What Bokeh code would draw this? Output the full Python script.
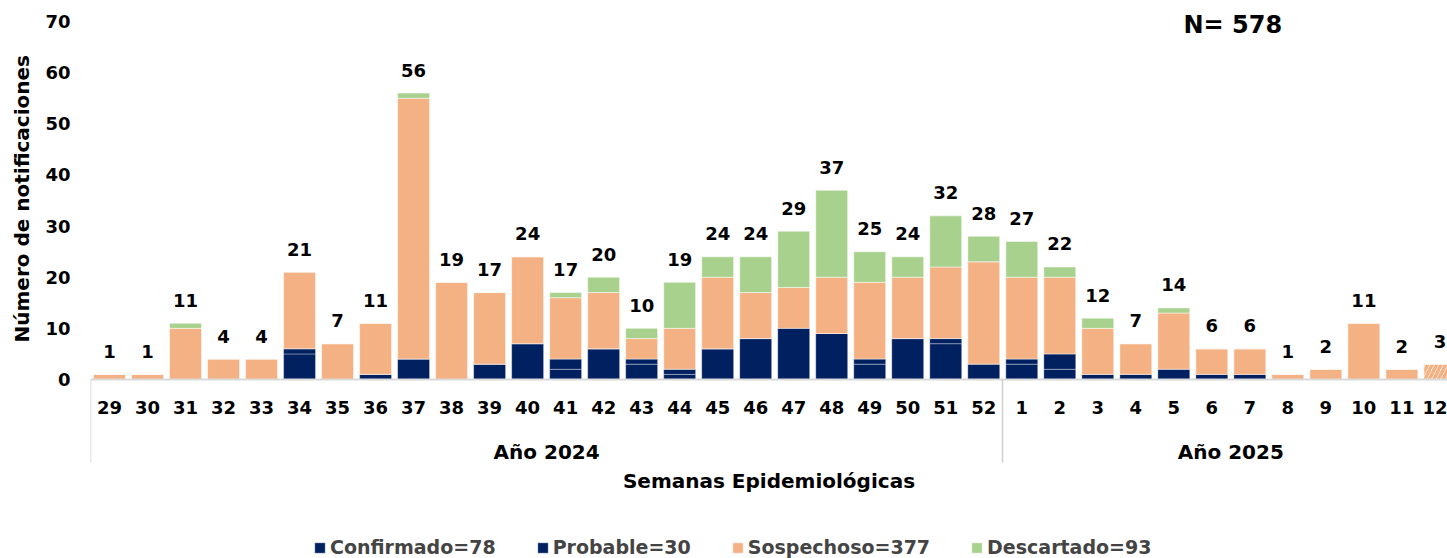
from bokeh.plotting import figure
from bokeh.models import (ColumnDataSource, Range1d, FixedTicker, LinearAxis,
                          Label, Legend, LegendItem, Title)
from bokeh.transform import stack
from bokeh.core.properties import value
from bokeh.embed import file_html
from bokeh.resources import INLINE

# ---------------- data ----------------
weeks = [str(w) for w in range(29, 53)] + [str(w) for w in range(1, 13)]
years = ["Año 2024", "Año 2025"]
year_sizes = [24, 12]

confirmado = [0, 0, 0, 0, 0, 5, 0, 1, 4, 0, 3, 7, 2, 6, 3, 1, 6, 8, 0, 9, 3, 8, 7, 0,
              3, 2, 0, 0, 0, 0, 0, 0, 0, 0, 0, 0]
probable = [0, 0, 0, 0, 0, 1, 0, 0, 0, 0, 0, 0, 2, 0, 1, 1, 0, 0, 10, 0, 1, 0, 1, 3,
            1, 3, 1, 1, 2, 1, 1, 0, 0, 0, 0, 0]
sospechoso = [1, 1, 10, 4, 4, 15, 7, 10, 51, 19, 14, 17, 12, 11, 4, 8, 14, 9, 8, 11, 15, 12, 14, 20,
              16, 15, 9, 6, 11, 5, 5, 1, 2, 11, 2, 3]
descartado = [0, 0, 1, 0, 0, 0, 0, 0, 1, 0, 0, 0, 1, 3, 2, 9, 4, 7, 11, 17, 6, 4, 10, 5,
              7, 2, 2, 0, 1, 0, 0, 0, 0, 0, 0, 0]
# last week is still incomplete (drawn hatched)
semana_incompleta = [False] * 35 + [True]

NAVY = "#002060"
ORANGE = "#F4B183"
GREEN = "#A9D18E"
FONT = "DejaVu Sans"
FS = "18px"
FS_T = "20px"

n = len(weeks)
xs = list(range(n))
totals = [c + p + s + d for c, p, s, d in zip(confirmado, probable, sospechoso, descartado)]
N = sum(totals)
Y_MAX = 70

# layout (pixels): the frame covers the canvas right of the y axis;
# y = 0 sits 179 px above the bottom, y = 70 sits 21 px below the top
W_PX, H_PX, LEFT = 1447, 558, 90
TOP_PX, BASE_PX = 21, 379
ppu = (BASE_PX - TOP_PX) / Y_MAX
y_start = -(H_PX - BASE_PX) / ppu
y_end = Y_MAX + TOP_PX / ppu

src = ColumnDataSource(dict(
    x=xs, conf=confirmado, prob=probable, sosp=sospechoso, desc=descartado,
    total=totals, total_str=[str(t) for t in totals],
    sosp_fill=["white" if inc else ORANGE for inc in semana_incompleta],
    sosp_hatch=["/" if inc else " " for inc in semana_incompleta],
))

p = figure(width=W_PX, height=H_PX,
           x_range=Range1d(-0.5, 35.2), y_range=Range1d(y_start, y_end),
           output_backend="svg", toolbar_location=None,
           min_border_left=LEFT, min_border_right=0, min_border_top=0, min_border_bottom=0)
p.outline_line_color = None
p.xgrid.grid_line_color = None
p.ygrid.grid_line_color = None

W = 0.84
r_conf = p.vbar(x="x", bottom=0, top=stack("conf"), width=W, source=src,
                fill_color=NAVY, line_color="white", line_alpha=0.35, line_width=1)
r_prob = p.vbar(x="x", bottom=stack("conf"), top=stack("conf", "prob"), width=W, source=src,
                fill_color=NAVY, line_color="white", line_alpha=0.35, line_width=1)
r_sosp = p.vbar(x="x", bottom=stack("conf", "prob"), top=stack("conf", "prob", "sosp"), width=W,
                source=src, fill_color="sosp_fill", hatch_pattern="sosp_hatch",
                hatch_color=ORANGE, hatch_weight=3.5, hatch_scale=9,
                line_color="white", line_alpha=0.5, line_width=1)
r_desc = p.vbar(x="x", bottom=stack("conf", "prob", "sosp"), top=stack("conf", "prob", "sosp", "desc"),
                width=W, source=src, fill_color=GREEN, line_color="white", line_alpha=0.5, line_width=1)

p.text(x="x", y="total", text="total_str", source=src, text_align="center",
       text_baseline="middle", y_offset=-23, text_font=value(FONT),
       text_font_style="bold", text_font_size=FS, text_color="black")


def style_labels(ax, fs=FS):
    ax.major_label_text_font = FONT
    ax.major_label_text_font_style = "bold"
    ax.major_label_text_font_size = fs
    ax.major_label_text_color = "black"
    ax.axis_label_text_font = FONT
    ax.axis_label_text_font_style = "bold"
    ax.axis_label_text_font_size = FS_T
    ax.axis_label_text_color = "black"
    ax.minor_tick_line_color = None


# y axis
yax = p.yaxis[0]
style_labels(yax)
yax.ticker = FixedTicker(ticks=list(range(0, Y_MAX + 1, 10)))
yax.bounds = (0, Y_MAX)
yax.axis_line_color = None
yax.major_tick_line_color = None
yax.major_tick_out = 0
yax.major_label_standoff = 20

# y axis title, positioned along the 0..70 span (not the whole frame)
p.add_layout(Title(text="Número de notificaciones", align="left", offset=216,
                   vertical_align="middle", standoff=16, text_font=FONT,
                   text_font_style="bold", text_font_size=FS_T, text_color="black"), "left")

# x axis 1: weeks (drawn at y = 0)
xax = p.xaxis[0]
style_labels(xax)
xax.fixed_location = 0
xax.ticker = FixedTicker(ticks=xs, minor_ticks=[])
xax.major_label_overrides = {i: w for i, w in zip(xs, weeks)}
xax.major_tick_line_color = None
xax.major_tick_out = 0
xax.major_tick_in = 0
xax.axis_line_color = "#d9d9d9"
xax.axis_line_width = 2
xax.major_label_standoff = 21

# x axis 2: years
centers, bounds = [], []
acc = 0
for s in year_sizes:
    bounds.append(acc - 0.5)
    centers.append(acc + (s - 1) / 2)
    acc += s
bounds.append(acc - 0.5)

yr_ax = LinearAxis(ticker=FixedTicker(ticks=centers, minor_ticks=[]),
                   major_label_overrides={c: y for c, y in zip(centers, years)},
                   fixed_location=0)
style_labels(yr_ax, FS_T)
yr_ax.axis_line_color = None
yr_ax.major_tick_line_color = None
yr_ax.major_tick_out = 0
yr_ax.major_label_standoff = 60
p.add_layout(yr_ax, "below")

# x axis 3: group separators + axis title
sep_ax = LinearAxis(ticker=FixedTicker(ticks=bounds, minor_ticks=[]),
                    major_label_overrides={b: " " for b in bounds},
                    fixed_location=0)
style_labels(sep_ax)
sep_ax.major_label_text_font_size = "1px"
sep_ax.major_label_standoff = 0
sep_ax.axis_line_color = None
sep_ax.major_tick_line_color = "#d0d0d0"
sep_ax.major_tick_line_width = 1.5
sep_ax.major_tick_out = 83
sep_ax.major_tick_in = 0
sep_ax.axis_label = "Semanas Epidemiológicas"
sep_ax.axis_label_standoff = 2
p.add_layout(sep_ax, "below")

# N label
p.add_layout(Label(x=1183 - LEFT, y=H_PX - 24, x_units="screen", y_units="screen",
                   text=f"N= {N}", text_font=FONT, text_font_style="bold",
                   text_font_size="24px", text_color="black", text_baseline="middle"))

# legend
legend = Legend(items=[
    LegendItem(label=f"Confirmado={sum(confirmado)}", renderers=[r_conf]),
    LegendItem(label=f"Probable={sum(probable)}", renderers=[r_prob]),
    LegendItem(label=f"Sospechoso={sum(sospechoso)}", renderers=[r_sosp], index=0),
    LegendItem(label=f"Descartado={sum(descartado)}", renderers=[r_desc]),
], location=(313 - LEFT, 0), orientation="horizontal")
legend.border_line_color = None
legend.background_fill_alpha = 0
legend.padding = 0
legend.margin = 0
legend.spacing = 40
legend.glyph_width = 13
legend.glyph_height = 13
legend.label_height = 22
legend.label_standoff = 4
legend.label_text_font = FONT
legend.label_text_font_style = "bold"
legend.label_text_font_size = "19px"
p.add_layout(legend, "center")

open("out.html", "w").write(file_html(p, INLINE))
